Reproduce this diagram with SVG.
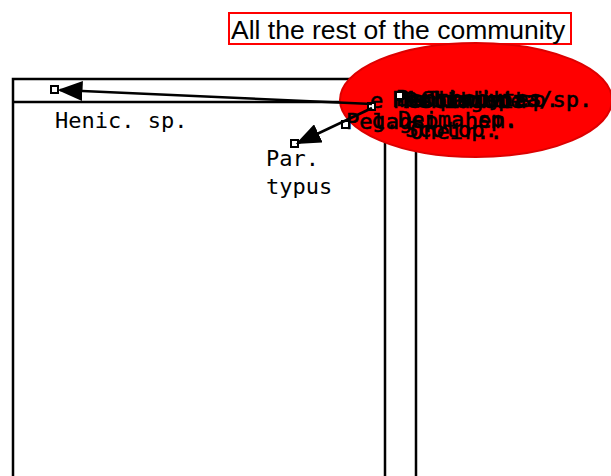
<svg xmlns="http://www.w3.org/2000/svg" width="611" height="476" viewBox="0 0 611 476">
<style>
.ln{stroke:#000;stroke-width:2.5;fill:none}
.nd{fill:#fff;stroke:#000;stroke-width:2}
.lb{font-family:"DejaVu Sans Mono",monospace;font-size:22px;fill:#000}
.ov{font-family:"DejaVu Sans Mono",monospace;font-size:22px;fill:#000;stroke:#000;stroke-width:0.6}
.cn{stroke:#000;stroke-width:2.5;fill:none;marker-end:url(#ah)}
</style>
<defs>
<marker id="ah" markerWidth="10" markerHeight="8" refX="9" refY="4" orient="auto" markerUnits="strokeWidth">
<path d="M0,0 L10,4 L0,8 z" fill="#000"/>
</marker>
</defs>
<g id="frame">
<path class="ln" d="M13,476 V79 H416 V476"/>
<path class="ln" d="M385,476 V78"/>
<path class="ln" d="M13,102 H385"/>
</g>
<g id="title">
<rect x="229" y="13" width="342" height="31" fill="#fff" stroke="#f00" stroke-width="2"/>
<text x="231" y="39" font-family="Liberation Sans,Arial,sans-serif" font-size="26.5" fill="#000">All the rest of the community</text>
</g>
<g id="community">
<ellipse cx="476" cy="100" rx="136" ry="57" fill="#f00" stroke="#d00" stroke-width="2"/>
<text class="ov" x="370" y="108">e</text>
<text class="ov" x="420" y="107">Chiridota/sp.</text>
<text class="ov" x="392" y="107">Psolus sp.</text>
<text class="ov" x="396" y="106">Benthodytes</text>
<text class="ov" x="394" y="108">Mesothuria</text>
<text class="ov" x="400" y="107">Molpadia sp.</text>
<text class="ov" x="404" y="108">Peniagone</text>
<text class="ov" x="346" y="129">Pelag</text>
<text class="ov" x="372" y="128">g. sp. hem.</text>
<text class="ov" x="398" y="127">Deima sp.</text>
<text class="ov" x="405" y="137">Scotop.</text>
<text class="ov" x="410" y="139">Oneir..</text>
</g>
<g id="nodes">
<rect class="nd" x="51" y="86" width="7" height="7"/>
<rect class="nd" x="291" y="140" width="7" height="7"/>
<rect class="nd" x="342" y="121" width="7" height="7"/>
<rect class="nd" x="368" y="103" width="7" height="7"/>
<rect class="nd" x="396" y="92" width="7" height="7"/>
</g>
<g id="labels">
<text class="lb" x="55" y="128">Henic. sp.</text>
<text class="lb" x="266" y="166">Par.</text>
<text class="lb" x="266" y="194">typus</text>
</g>
<g id="connectors">
<line class="cn" x1="372" y1="104" x2="60" y2="90"/>
<line class="cn" x1="372" y1="108" x2="298" y2="143"/>
</g>
</svg>
